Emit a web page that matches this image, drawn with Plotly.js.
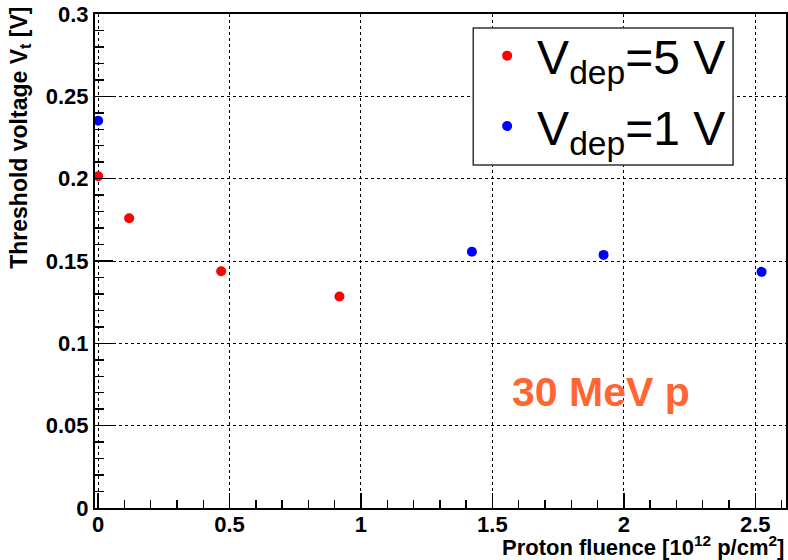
<!DOCTYPE html>
<html>
<head>
<meta charset="utf-8">
<script src="https://cdn.plot.ly/plotly-3.0.1.min.js"></script>
<style>html,body{margin:0;padding:0;background:#fff;}#chart{width:788px;height:560px;}</style>
</head>
<body>
<div id="chart"></div>
<script>
// Data
const fluence5V = [0.0, 0.118, 0.468, 0.918];
const vt5V      = [0.2015, 0.176, 0.1438, 0.1284];
const fluence1V = [0.0, 1.422, 1.923, 2.524];
const vt1V      = [0.2352, 0.1556, 0.1537, 0.1434];
const seriesNames = ['V<sub>dep</sub>=5 V', 'V<sub>dep</sub>=1 V'];
const seriesColors = ['#ff0000', '#0000ff'];

const FONT = 'Liberation Sans, Arial, Helvetica, sans-serif';

const traces = [
  {x: fluence5V, y: vt5V, name: seriesNames[0], legendgroup: 'a', type: 'scatter', mode: 'markers',
   marker: {color: seriesColors[0], size: 10}},
  {x: fluence1V, y: vt1V, name: seriesNames[1], legendgroup: 'b', type: 'scatter', mode: 'markers',
   marker: {color: seriesColors[1], size: 10}}
];

const axisCommon = {
  showline: true, mirror: true, linecolor: '#000', linewidth: 2,
  ticks: 'inside', tickcolor: '#000', tickwidth: 1.5,
  showgrid: true, gridcolor: '#000', griddash: 'dot', gridwidth: 1,
  zeroline: false,
  tickfont: {family: FONT, size: 22, color: '#000', weight: 'bold'}
};

const layout = {
  width: 788, height: 560,
  margin: {l: 94.5, r: 2, t: 14, b: 52.3},
  paper_bgcolor: '#fff', plot_bgcolor: '#fff',
  font: {family: FONT, color: '#000'},
  xaxis: Object.assign({}, axisCommon, {
    range: [-0.012, 2.617], dtick: 0.5, tick0: 0, ticklen: 15, ticklabelstandoff: -4,
    minor: {dtick: 0.1, ticks: 'inside', ticklen: 8, tickcolor: '#000', tickwidth: 1.5, showgrid: false}
  }),
  yaxis: Object.assign({}, axisCommon, {
    range: [0, 0.3], dtick: 0.05, tick0: 0, ticklen: 18,
    minor: {dtick: 0.01, ticks: 'inside', ticklen: 9, tickcolor: '#000', tickwidth: 1.5, showgrid: false}
  }),
  showlegend: true,
  legend: {
    x: 0.553, y: 0.992, xanchor: 'left', yanchor: 'top',
    bgcolor: 'rgba(0,0,0,0)', borderwidth: 0,
    font: {family: FONT, size: 48, color: '#000'},
    itemwidth: 50,
    tracegroupgap: 5
  },
  shapes: [
    {type: 'rect', xref: 'paper', yref: 'paper', x0: 0.5474, x1: 0.9234, y0: 0.6942, y1: 0.9717,
     fillcolor: '#fff', line: {color: '#333', width: 1.5}, layer: 'above'}
  ],
  annotations: [
    {text: '30 MeV p', xref: 'paper', yref: 'paper', x: 0.732, y: 0.235,
     xanchor: 'center', yanchor: 'middle', showarrow: false,
     font: {family: FONT, size: 41, color: '#ff6633', weight: 'bold'}},
    {text: 'Threshold voltage V<sub>t</sub> [V]', xref: 'paper', yref: 'paper',
     x: -0.109, y: 1.018, xanchor: 'center', yanchor: 'top', textangle: -90, showarrow: false,
     font: {family: FONT, size: 23, color: '#000', weight: 'bold'}},
    {text: 'Proton fluence [10<sup>12</sup> p/cm<sup>2</sup>]', xref: 'paper', yref: 'paper',
     x: 1.0, y: -0.0776, xanchor: 'right', yanchor: 'middle', showarrow: false,
     font: {family: FONT, size: 22, color: '#000', weight: 'bold'}}
  ]
};

Plotly.newPlot('chart', traces, layout, {displayModeBar: false, staticPlot: true});
</script>
</body>
</html>
